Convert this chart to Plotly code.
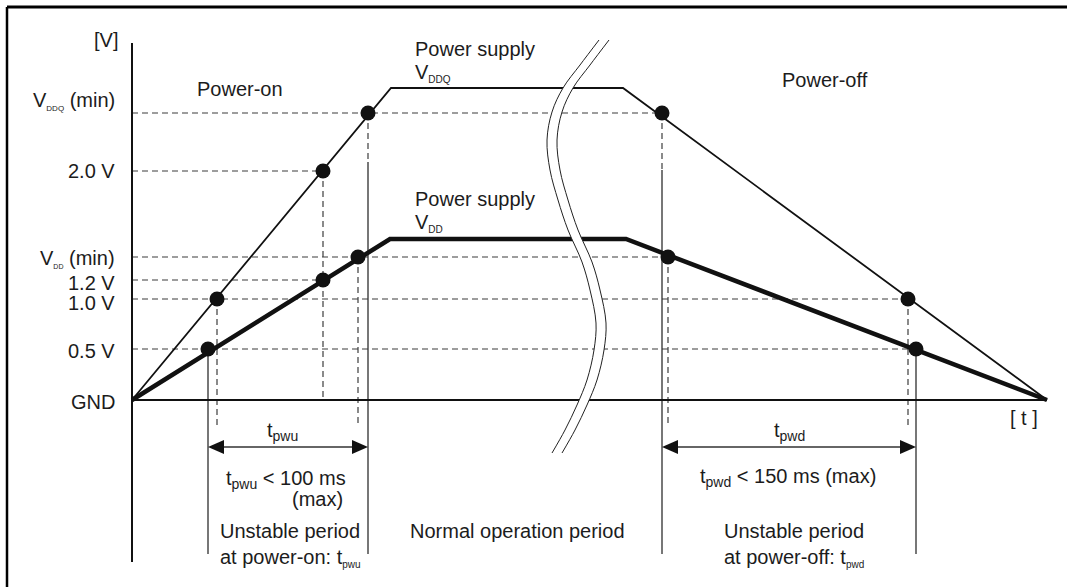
import plotly.graph_objects as go

W, H = 1067, 587
# schematic frame: t runs right from the voltage axis, v runs up from GND
T_RANGE = [-132, 935]
V_RANGE = [-187, 400]

FONT = "Liberation Sans, Arial, Helvetica, sans-serif"
INK = "#1c1c1c"
GUIDE = "#3c3c3c"

# supply waveforms
vddq_t = [0, 259, 491, 915]
vddq_v = [0, 312, 312, 0]
vdd_t = [0, 258, 494, 915]
vdd_v = [0, 161, 161, 0]

# reference levels on the voltage axis
level_v = [0, 51, 101, 120, 143, 229, 287]
level_label_v = [-2, 49, 97, 117, 142, 229, 299]
level_guide_end = [None, 784, 776, 191, 536, 191, 530]
level_text = [
    "GND", "0.5 V", "1.0 V", "1.2 V",
    "V<sub><span style='font-size:7px'>DD</span></sub> (min)",
    "2.0 V",
    "V<sub><span style='font-size:8px'>DDQ</span></sub> (min)",
]

# threshold crossings on the two supplies
dot_t = [85, 191, 236, 530, 776, 76, 191, 226, 536, 784]
dot_v = [101, 229, 287, 287, 101, 51, 120, 143, 143, 51]

# dashed drops from crossings towards the time axis
drop_t = [85, 191, 226, 536, 776, 236, 530]
drop_top = [101, 229, 143, 143, 101, 287, 287]
drop_bottom = [-25, 0, -25, -27, -25, 238, 230]

# solid limits of the unstable periods
bound_t = [76, 236, 530, 784]
bound_top = [51, 238, 230, 51]
bound_bottom = -154

# duration arrows (start, end) and their height
arrow_spans = [(76, 236), (530, 784)]
arrow_v = -47

# axis break drawn across the normal operation period (left edge, width)
break_t = [467, 448, 431, 420, 415, 418, 426, 436, 450, 458, 464, 462, 455, 445, 433, 420]
break_v = [360, 335, 312, 288, 260, 230, 200, 170, 138, 110, 77, 50, 20, -5, -30, -53]
break_gap = 10

fig = go.Figure()


def path(ts, vs, color, width, dash="solid", shape="linear"):
    fig.add_trace(go.Scatter(
        x=ts, y=vs, mode="lines",
        line=dict(color=color, width=width, dash=dash, shape=shape),
        hoverinfo="skip", showlegend=False,
    ))


# horizontal guides for each reference level
for v, end in zip(level_v, level_guide_end):
    if end is not None:
        path([0, end], [v, v], GUIDE, 1.2, dash="6px,4px")

# dashed drops
for t, top, bot in zip(drop_t, drop_top, drop_bottom):
    path([t, t], [top, bot], GUIDE, 1.2, dash="6px,4px")

# period boundaries
for t, top in zip(bound_t, bound_top):
    path([t, t], [top, bound_bottom], "#2e2e2e", 1.3)

# axes
path([0, 0], [357, -162], "#111111", 2.0)
path([0, vddq_t[-1]], [0, 0], "#111111", 1.8)

# supplies
path(vddq_t, vddq_v, "#111111", 1.8)
path(vdd_t, vdd_v, "#111111", 4.5)

# axis break: white band with two thin edges
right_t = [t + break_gap for t in break_t]
fig.add_trace(go.Scatter(
    x=break_t + right_t[::-1], y=break_v + break_v[::-1],
    mode="lines", fill="toself", fillcolor="white",
    line=dict(width=0, color="white", shape="spline"),
    hoverinfo="skip", showlegend=False,
))
path(break_t, break_v, "#222222", 1.0, shape="spline")
path(right_t, break_v, "#222222", 1.0, shape="spline")

# crossing markers
fig.add_trace(go.Scatter(
    x=dot_t, y=dot_v, mode="markers",
    marker=dict(size=15, color="#111111", line=dict(width=0)),
    hoverinfo="skip", showlegend=False,
))

# duration arrows
HEAD_L, HEAD_H = 16, 7
for a, b in arrow_spans:
    path([a + 4, b - 4], [arrow_v, arrow_v], "#333333", 1.3)
    for tip, back in ((a, a + HEAD_L), (b, b - HEAD_L)):
        fig.add_trace(go.Scatter(
            x=[tip, back, back, tip],
            y=[arrow_v, arrow_v + HEAD_H, arrow_v - HEAD_H, arrow_v],
            mode="lines", fill="toself", fillcolor="#111111",
            line=dict(width=0, color="#111111"),
            hoverinfo="skip", showlegend=False,
        ))


def label(text, t, v, xanchor="center", size=20):
    fig.add_annotation(
        x=t, y=v, text=text, showarrow=False, xanchor=xanchor, yanchor="middle",
        font=dict(family=FONT, size=size, color=INK),
    )


def sub(s, px):
    return f"<sub><span style='font-size:{px}px'>{s}</span></sub>"


for text, v in zip(level_text, level_label_v):
    label(text, -15, v, xanchor="right")

label("[V]", -12, 360, xanchor="right")
label("[ t ]", 892, -18)
label("Power-on", 108, 311)
label("Power-off", 693, 320)
label("Power supply", 281, 351, xanchor="left")
label("V" + sub("DDQ", 10), 281, 327, xanchor="left")
label("Power supply", 281, 201, xanchor="left")
label("V" + sub("DD", 10), 281, 177, xanchor="left")
label("t<sub>pwu</sub>", 150, -31)
label("t<sub>pwd</sub>", 657, -31)
label("t<sub>pwu</sub> &lt; 100 ms", 154, -79)
label("(max)", 213, -99, xanchor="right")
label("Unstable period", 86, -131, xanchor="left")
label("at power-on: t" + sub("pwu", 10), 86, -158, xanchor="left")
label("Normal operation period", 385, -131)
label("t<sub>pwd</sub> &lt; 150 ms (max)", 656, -77)
label("Unstable period", 590, -131, xanchor="left")
label("at power-off: t" + sub("pwd", 10), 590, -158, xanchor="left")

# frame edges (top and left)
fig.add_shape(type="line", xref="paper", yref="paper",
              x0=7 / W, x1=1.0, y0=1 - 7 / H, y1=1 - 7 / H,
              line=dict(color="#000000", width=3))
fig.add_shape(type="line", xref="paper", yref="paper",
              x0=7 / W, x1=7 / W, y0=1 - 7 / H, y1=0,
              line=dict(color="#000000", width=2.5))

fig.update_layout(
    width=W, height=H, autosize=False,
    margin=dict(l=0, r=0, t=0, b=0, pad=0),
    paper_bgcolor="white", plot_bgcolor="white",
    xaxis=dict(range=T_RANGE, visible=False, fixedrange=True),
    yaxis=dict(range=V_RANGE, visible=False, fixedrange=True),
    showlegend=False,
)

fig.write_html("out.html")
